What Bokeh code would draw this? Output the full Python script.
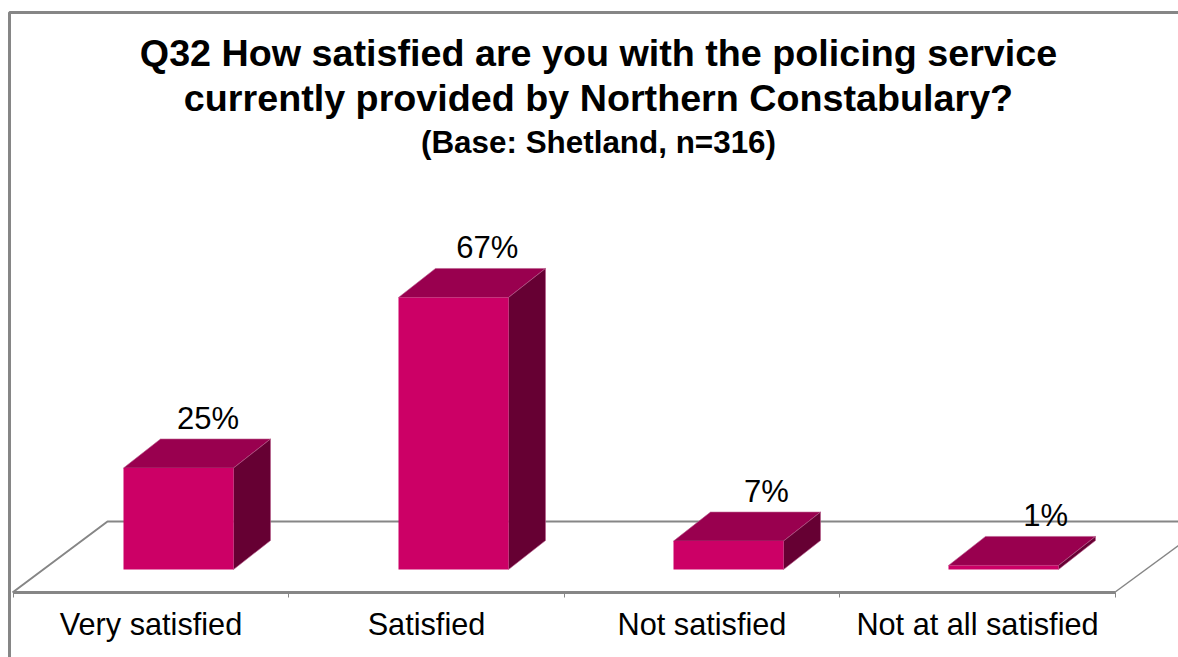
from bokeh.core.properties import value
from bokeh.embed import file_html
from bokeh.models import ColumnDataSource, FixedTicker, Label, LinearAxis, Range1d
from bokeh.plotting import figure
from bokeh.resources import INLINE

# Survey results
categories = ["Very satisfied", "Satisfied", "Not satisfied", "Not at all satisfied"]
percentages = [25, 67, 7, 1]
percent_labels = ["25%", "67%", "7%", "1%"]
title_lines = [
    "Q32 How satisfied are you with the policing service",
    "currently provided by Northern Constabulary?",
]
subtitle = "(Base: Shetland, n=316)"

WIDTH, HEIGHT = 1178, 657
PX_PER_CATEGORY = 275.0
PX_PER_PERCENT = 4.06
ZERO_X_PX, ZERO_Y_PX = 178.0, 569.0

# Floor slots sit slightly to the left of the bars standing on them
AXIS_ZERO_PX, AXIS_PX_PER_CATEGORY = 150.5, 275.5

# Value labels drift to the right of their bars, further with each category
LABEL_SHIFT_PX, LABEL_DRIFT_PX = 29.5, 4.2

# Oblique projection of the bars and of the floor, in data units
BAR_WIDTH = 0.4
DEPTH_X = 37 / PX_PER_CATEGORY
DEPTH_Y = 29 / PX_PER_PERCENT

FRONT = "#CC0066"
TOP = "#99004F"
SIDE = "#660033"
EDGE = "#B85A8C"
GRID = "#868686"
FONT = "Liberation Sans"


def data_x(px):
    return (px - ZERO_X_PX) / PX_PER_CATEGORY


def data_y(py):
    return (ZERO_Y_PX - py) / PX_PER_PERCENT


def axis_x(px):
    return (px - AXIS_ZERO_PX) / AXIS_PX_PER_CATEGORY


p = figure(
    width=WIDTH,
    height=HEIGHT,
    output_backend="svg",
    toolbar_location=None,
    x_axis_type=None,
    y_axis_type=None,
    min_border=0,
    outline_line_color=None,
    background_fill_color="white",
    border_fill_color="white",
    x_range=Range1d(data_x(0), data_x(WIDTH)),
    y_range=Range1d(data_y(HEIGHT), data_y(0)),
)
p.extra_x_ranges["slots"] = Range1d(axis_x(0), axis_x(WIDTH))
p.grid.visible = False

# Chart border: left and top sides only
p.line(
    [data_x(9), data_x(9), data_x(WIDTH)],
    [data_y(HEIGHT), data_y(12), data_y(12)],
    line_color=GRID,
    line_width=3,
)

# Floor of the 3D plot
front_y = data_y(592)
back_y = data_y(521)
p.line(
    [data_x(12), data_x(107), data_x(WIDTH)],
    [front_y, back_y, back_y],
    line_color=GRID,
    line_width=2,
)
p.line(
    [data_x(1114), data_x(WIDTH)],
    [front_y, data_y(545)],
    line_color=GRID,
    line_width=1.5,
)

# Category axis, drawn inside the frame at the front edge of the floor
slots = list(range(len(categories)))
boundaries = [s - 0.5 for s in slots] + [slots[-1] + 0.5]
axis = LinearAxis(
    x_range_name="slots",
    fixed_location=front_y,
    ticker=FixedTicker(ticks=slots, minor_ticks=boundaries),
    major_label_overrides={i: c for i, c in enumerate(categories)},
    major_tick_line_color=None,
    major_tick_out=0,
    major_tick_in=0,
    minor_tick_line_color=GRID,
    minor_tick_out=5,
    minor_tick_in=0,
    minor_tick_line_width=1,
    axis_line_color=GRID,
    axis_line_width=3,
    bounds=(boundaries[0], boundaries[-1]),
    major_label_text_font=FONT,
    major_label_text_font_size="30.7px",
    major_label_text_color="black",
    major_label_standoff=9,
)
p.add_layout(axis, "below")

# Bars: front face plus projected top and side faces
xs = list(range(len(categories)))
lefts = [x - BAR_WIDTH / 2 for x in xs]
rights = [x + BAR_WIDTH / 2 for x in xs]

top_faces = ColumnDataSource(
    data=dict(
        xs=[[l, r, r + DEPTH_X, l + DEPTH_X] for l, r in zip(lefts, rights)],
        ys=[[v, v, v + DEPTH_Y, v + DEPTH_Y] for v in percentages],
    )
)
side_faces = ColumnDataSource(
    data=dict(
        xs=[[r, r + DEPTH_X, r + DEPTH_X, r] for r in rights],
        ys=[[0, DEPTH_Y, v + DEPTH_Y, v] for v in percentages],
    )
)
p.patches("xs", "ys", source=top_faces, fill_color=TOP, line_color=EDGE, line_width=0.6)
p.patches("xs", "ys", source=side_faces, fill_color=SIDE, line_color=EDGE, line_width=0.6)
p.vbar(x=xs, width=BAR_WIDTH, bottom=0, top=percentages, fill_color=FRONT, line_color=None)

# Value labels above the bars
p.text(
    x=[x + (LABEL_SHIFT_PX + LABEL_DRIFT_PX * x) / PX_PER_CATEGORY for x in xs],
    y=[v + DEPTH_Y for v in percentages],
    text=percent_labels,
    text_font=value(FONT),
    text_font_size="31px",
    text_color="black",
    text_align="center",
    text_baseline="middle",
    y_offset=-21,
)

# Three-line heading
for line, centre_y in zip(title_lines, [52, 97]):
    p.add_layout(
        Label(
            x=598, y=HEIGHT - centre_y, x_units="screen", y_units="screen",
            text=line, text_font=FONT, text_font_size="37.7px", text_font_style="bold",
            text_color="black", text_align="center", text_baseline="middle",
        )
    )
p.add_layout(
    Label(
        x=598, y=HEIGHT - 142, x_units="screen", y_units="screen",
        text=subtitle, text_font=FONT, text_font_size="31.4px", text_font_style="bold",
        text_color="black", text_align="center", text_baseline="middle",
    )
)

open("out.html", "w").write(file_html(p, INLINE))
